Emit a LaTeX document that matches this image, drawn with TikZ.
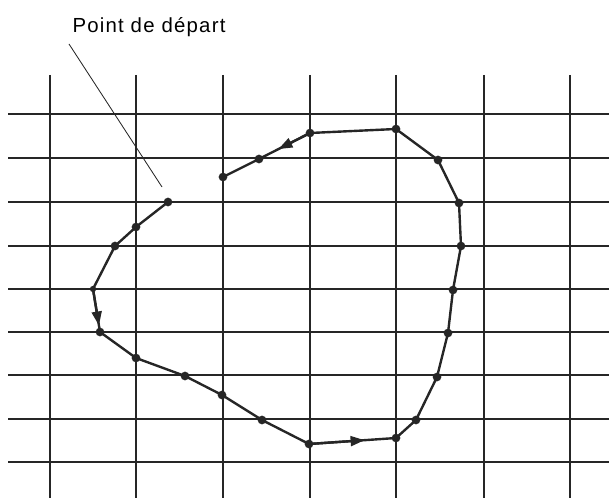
\documentclass[tikz,border=0pt]{standalone}
\usepackage{fontspec}
\setmainfont{Liberation Sans}
\usetikzlibrary{arrows.meta,calc}

\begin{document}
\begin{tikzpicture}[x=0.025cm,y=-0.025cm,
    gridline/.style={line width=1pt,black!85},
    trace/.style={line width=1.7pt,black!85,line join=round},
    dot/.style={circle,fill=black!85,inner sep=0pt,minimum size=6.2pt},
    tiparrow/.style={trace,-{Triangle[length=10pt,width=7pt]}},
    pointer/.style={line width=0.6pt,black!85}]

  \useasboundingbox (0,0) rectangle (611,498);

  % grid
  \draw[gridline] (8,114) -- (609,114);
  \draw[gridline] (8,158) -- (609,158);
  \draw[gridline] (8,202) -- (609,202);
  \draw[gridline] (8,246) -- (609,246);
  \draw[gridline] (8,289) -- (609,289);
  \draw[gridline] (8,332) -- (609,332);
  \draw[gridline] (8,375) -- (609,375);
  \draw[gridline] (8,419) -- (609,419);
  \draw[gridline] (8,462) -- (609,462);
  \draw[gridline] (50,75) -- (50,498);
  \draw[gridline] (136,75) -- (136,498);
  \draw[gridline] (223,75) -- (223,498);
  \draw[gridline] (310,75) -- (310,498);
  \draw[gridline] (396,75) -- (396,498);
  \draw[gridline] (484,75) -- (484,498);
  \draw[gridline] (570,75) -- (570,498);

  % label
  \node (depart) at (149,27)
    {\fontsize{14.5}{17}\selectfont\addfontfeature{LetterSpace=6}Point de départ};
  \coordinate (ptrA) at (69,44);
  \coordinate (ptrB) at (162,187);
  \draw[pointer] (ptrA) -- (ptrB);

  % contour points
  \node[dot] (p1)  at (168,202) {};
  \node[dot] (p2)  at (136,227) {};
  \node[dot] (p3)  at (115,246) {};
  \node[dot,minimum size=4.5pt] (p4)  at (93,289) {};
  \node[dot] (p5)  at (100,332) {};
  \node[dot] (p6)  at (136,358) {};
  \node[dot] (p7)  at (185,376) {};
  \node[dot] (p8)  at (222,395) {};
  \node[dot] (p9)  at (262,420) {};
  \node[dot] (p10) at (309,444) {};
  \node[dot] (p11) at (396,438) {};
  \node[dot] (p12) at (416,420) {};
  \node[dot] (p13) at (437,377) {};
  \node[dot] (p14) at (448,333) {};
  \node[dot] (p15) at (453,290) {};
  \node[dot] (p16) at (461,246) {};
  \node[dot] (p17) at (459,203) {};
  \node[dot] (p18) at (438,160) {};
  \node[dot] (p19) at (396,129) {};
  \node[dot] (p20) at (310,133) {};
  \node[dot] (p21) at (259,159) {};
  \node[dot] (p22) at (223,177) {};

  \draw[trace] (p1.center) -- (p2.center) -- (p3.center) -- (p4.center)
    -- (p5.center) -- (p6.center) -- (p7.center) -- (p8.center)
    -- (p9.center) -- (p10.center) -- (p11.center) -- (p12.center)
    -- (p13.center) -- (p14.center) -- (p15.center) -- (p16.center)
    -- (p17.center) -- (p18.center) -- (p19.center) -- (p20.center)
    -- (p21.center) -- (p22.center);

  % direction arrows
  \draw[tiparrow] (p4.center) -- ($(p4.center)!0.85!(p5.center)$);
  \draw[tiparrow] (p10.center) -- ($(p10.center)!0.64!(p11.center)$);
  \draw[tiparrow] (p20.center) -- ($(p20.center)!0.62!(p21.center)$);
\end{tikzpicture}
\end{document}
